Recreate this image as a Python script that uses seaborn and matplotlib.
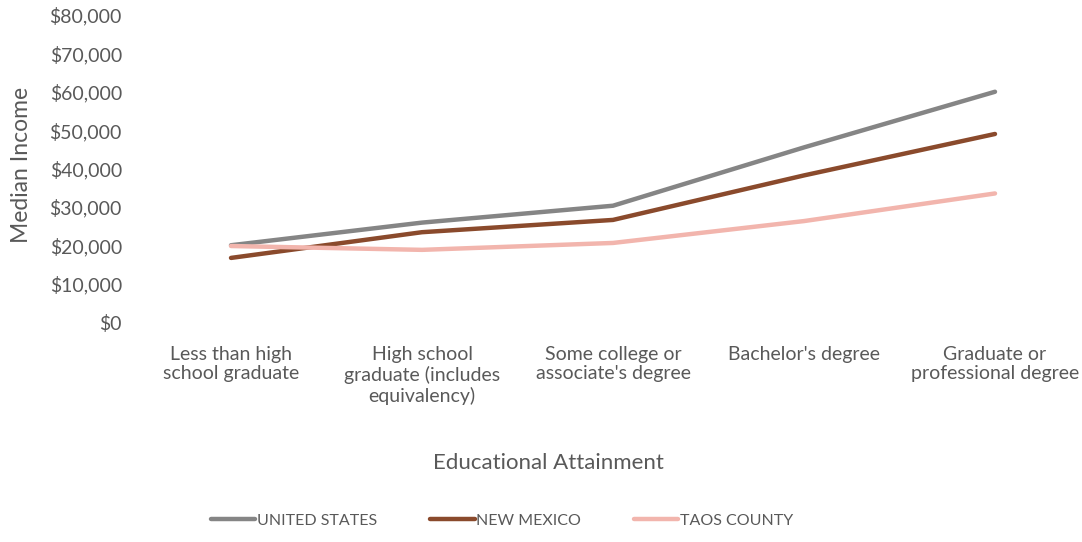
import matplotlib
matplotlib.use("Agg")
import matplotlib.pyplot as plt
import seaborn as sns
import pandas as pd
from matplotlib.ticker import FuncFormatter
from matplotlib.lines import Line2D

categories = ["Less than high\nschool graduate",
              "High school\ngraduate (includes\nequivalency)",
              "Some college or\nassociate's degree",
              "Bachelor's degree",
              "Graduate or\nprofessional degree"]
united_states = [20000, 25900, 30300, 45500, 60000]
new_mexico = [16700, 23400, 26600, 38200, 49000]
taos_county = [19800, 18800, 20600, 26300, 33500]
series_names = ["UNITED STATES", "NEW MEXICO", "TAOS COUNTY"]
colors = ["#858585", "#8a4a2c", "#f2b5ad"]

rows = []
for name, vals in zip(series_names, [united_states, new_mexico, taos_county]):
    for i, v in enumerate(vals):
        rows.append({"pos": i, "value": v, "series": name})
df = pd.DataFrame(rows)

sns.set_theme(style="white")
plt.rcParams['font.family'] = ['Lato', 'DejaVu Sans']

fig = plt.figure(figsize=(10.82, 5.42), dpi=100)
W, H = 1082, 542
left, right, top, bottom = 140, 1075, 15, 322
ax = fig.add_axes([left / W, 1 - bottom / H, (right - left) / W, (bottom - top) / H])

sns.lineplot(data=df, x="pos", y="value", hue="series", hue_order=series_names,
             palette=colors, linewidth=3.2, ax=ax, legend=False)

x0 = 231; step = 191
ax.set_xlim((left - x0) / step, (right - x0) / step)
ax.set_ylim(0, 80000)
ax.set_yticks(range(0, 80001, 10000))
ax.yaxis.set_major_formatter(FuncFormatter(lambda v, p: "$" + format(int(v), ",")))
ax.set_xticks(range(len(categories)))
ax.set_xticklabels(categories, fontsize=14, color="#595959", linespacing=1.2)
ax.tick_params(axis="x", length=0, pad=17)
ax.tick_params(axis="y", length=0, pad=13, labelsize=14, labelcolor="#595959")
for s in ax.spines.values():
    s.set_visible(False)
ax.grid(False)
ax.set_xlabel("")
ax.set_ylabel("")

fig.text(548 / W, 1 - 463 / H, "Educational Attainment", ha="center", va="center",
         fontsize=16, color="#595959")
fig.text(22 / W, 1 - 165 / H, "Median Income", ha="center", va="center",
         rotation=90, fontsize=16.5, color="#595959")

handles = [Line2D([0], [0], color=c, lw=3.2) for c in colors]
fig.legend(handles, series_names, loc="center", bbox_to_anchor=(502 / W, 1 - 521 / H),
           ncol=3, frameon=False, fontsize=11.5, labelcolor="#595959",
           handlelength=2.8, handletextpad=0.1, columnspacing=3.3)

fig.savefig("out.png", dpi=100, facecolor="white")
